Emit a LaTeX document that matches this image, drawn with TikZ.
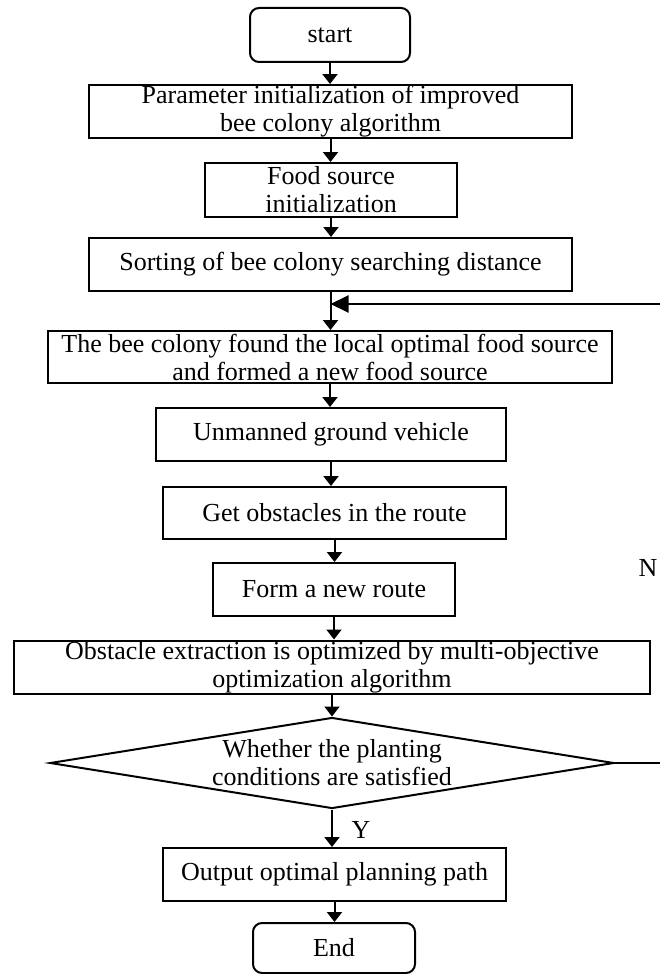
\documentclass[tikz,border=0pt]{standalone}
\usepackage{fontspec}
\setmainfont{Liberation Serif}
\usetikzlibrary{arrows.meta,shapes.geometric}
\begin{document}
\begin{tikzpicture}[x=1pt,y=-1pt,
  every node/.style={font=\fontsize{26}{28}\selectfont, inner sep=0pt},
  procbox/.style={draw, line width=2pt, rectangle, align=center},
  termbox/.style={draw, line width=2pt, rectangle, rounded corners=9pt, align=center},
  decbox/.style={draw, line width=2pt, diamond},
  flow/.style={line width=2pt, -{Triangle[length=10pt,width=15pt]}},
  back/.style={line width=2pt, -{Triangle[length=18pt,width=17pt]}},
  plain/.style={line width=2pt}
]
\useasboundingbox (0,0) rectangle (660,974);
\node[termbox, minimum width=160pt, minimum height=54pt] (start) at (330,35) {start};
\node[procbox, minimum width=483pt, minimum height=53pt] (param) at (330.5,111.5) {Parameter initialization of improved\\bee colony algorithm};
\node[procbox, minimum width=252pt, minimum height=54pt] (food) at (331,190) {Food source\\initialization};
\node[procbox, minimum width=483pt, minimum height=53pt] (sort) at (330.5,264.5) {Sorting of bee colony searching distance};
\node[procbox, minimum width=564pt, minimum height=52pt] (bee) at (330,357) {The bee colony found the local optimal food source\\and formed a new food source};
\node[procbox, minimum width=350pt, minimum height=53pt] (ugv) at (331,434.5) {Unmanned ground vehicle};
\node[procbox, minimum width=343pt, minimum height=52pt] (obst) at (334.5,513) {Get obstacles in the route};
\node[procbox, minimum width=242pt, minimum height=53pt] (route) at (334,589.5) {Form a new route};
\node[procbox, minimum width=636pt, minimum height=53pt] (extr) at (332,667) {Obstacle extraction is optimized by multi-objective\\optimization algorithm};
\node[decbox, minimum width=564pt, minimum height=91pt, label={[align=center, font=\fontsize{26}{28}\selectfont]center:Whether the planting\\conditions are satisfied}] (dec) at (332,763) {};
\node[procbox, minimum width=343pt, minimum height=53pt] (out) at (334.5,874.5) {Output optimal planning path};
\node[termbox, minimum width=162pt, minimum height=50pt] (end) at (334,948) {End};
\node (ylab) at (361,830) {Y};
\node (nlab) at (648,568) {N};
\coordinate (fbR) at (660,763);
\coordinate (fbT) at (660,304);

\draw[flow] (start.south) -- (start.south |- param.north);
\draw[flow] (param.south) -- (param.south |- food.north);
\draw[flow] (food.south) -- (food.south |- sort.north);
\draw[flow] (sort.south) -- (sort.south |- bee.north);
\draw[flow] (bee.south) -- (bee.south |- ugv.north);
\draw[flow] (ugv.south) -- (ugv.south |- obst.north);
\draw[flow] (obst.south) -- (obst.south |- route.north);
\draw[flow] (route.south) -- (route.south |- extr.north);
\draw[flow] (extr.south) -- (extr.south |- dec.north);
\draw[flow] (dec.south) -- (dec.south |- out.north);
\draw[flow] (out.south) -- (out.south |- end.north);
\draw[plain] (dec.east) -- (fbR);
\draw[back] (fbT) -- (sort.south |- fbT);
\end{tikzpicture}
\end{document}
